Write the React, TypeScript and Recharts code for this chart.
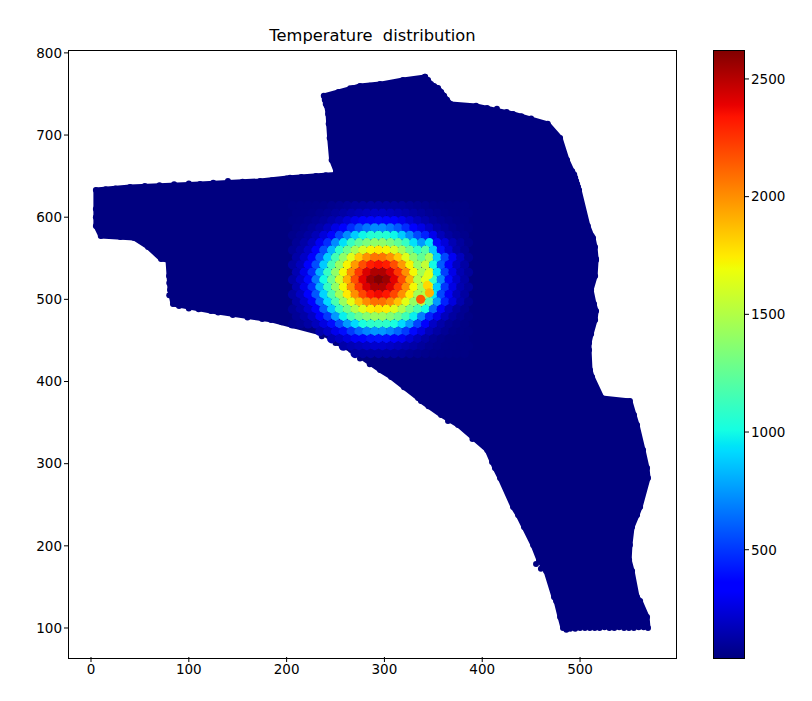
import { ComposedChart, BarChart, Bar, Area, Scatter, XAxis, YAxis } from 'recharts';

// outline of the mesh
const rowY = [100, 113.4, 132.9, 137.7, 169.4, 182.8, 201, 223, 237.6, 247.3, 282.6, 294.8, 316.7, 347.1, 359.3, 376.3, 380, 405.6, 414, 438.4, 447, 457.9, 475, 485.9, 494.4, 511.5, 528.5, 548, 549.2, 563.8, 574.8, 577.2, 589.4, 633.2, 636.9, 640.5, 644.2, 647.9, 652, 656, 669.7, 696.5, 713.6, 725.7, 735.5, 737.9, 742.8, 747.7, 752.5, 757.4, 759.8, 762, 767, 770.8];
const rowLeft = [482.6, 479.6, 475.5, 473.4, 465.2, 458, 452, 442.7, 436.6, 431.5, 418.2, 413, 405, 375.3, 357.9, 337.4, 334.4, 306.8, 295.5, 265.9, 252.6, 238.2, 184, 122.7, 83.8, 80.8, 79.8, 78.7, 71.6, 58.3, 44, 10, 5, 5, 39.9, 111.5, 172.8, 203.5, 249.5, 250.5, 246, 244, 243, 242.4, 241, 240, 239, 238, 253, 268, 275, 295.5, 319, 341.5];
const rowRight = [569.5, 568.5, 561.4, 558.3, 553.2, 550.2, 551, 553.2, 558.3, 561.4, 569.5, 568.5, 564.4, 558.3, 555.2, 551, 522.5, 512.3, 510.2, 509.2, 509.2, 511.3, 515.4, 516.4, 514.3, 511.3, 515.4, 516.4, 516.4, 515.3, 513.3, 512, 508, 499, 498, 497, 496, 495, 494, 492, 486.7, 479.6, 467, 431.5, 393.7, 368, 364, 361, 358, 354.8, 350.7, 347.6, 344.6, 341.5];

// extra points along the edges that are nearly flat
const edgeX = [15, 25, 55, 70, 85, 100, 125, 140, 155, 185, 200, 215, 230, 240, 20, 30, 90, 100, 110, 130, 145, 160, 175, 195, 210, 225, 236, 250, 275, 285, 320, 345, 365, 390, 265, 285, 305, 330, 405, 415, 425, 440, 450, 486, 490, 495, 500, 505, 510, 515, 520, 525, 530, 535, 540, 545, 550, 555, 560, 565, 530, 540, 548, 5, 5, 80, 80, 410, 455, 460];
const edgeY = [634, 635, 638, 639, 640, 641, 642, 644, 643, 645, 647, 649, 650, 651, 577, 576, 492, 489, 488, 484, 481, 478, 476, 472, 468, 464, 455, 447, 428, 421, 393, 370, 352, 330, 757, 760, 762, 767, 733, 732, 728, 723, 720, 98, 99, 99, 100, 100, 100, 100, 100, 101, 100, 100, 101, 100, 100, 100, 101, 101, 376, 376, 376, 610, 600, 520, 505, 302, 178, 172];

// temperature around the hot spot, rows run from y=614 down to y=434
const heatY = [614, 605, 596, 587, 578, 569, 560, 551, 542, 533, 524, 515, 506, 497, 488, 479, 470, 461, 452, 443, 434];
const heatXEven = [206, 214, 222, 230, 238, 246, 254, 262, 270, 278, 286, 294, 302, 310, 318, 326, 334, 342, 350, 358, 366, 374, 382];
const heatXOdd = [210, 218, 226, 234, 242, 250, 258, 266, 274, 282, 290, 298, 306, 314, 322, 330, 338, 346, 354, 362, 370, 378, 386];
const heatT: (number | null)[][] = [
    [50, 52, 52, 55, 60, 72, 82, 92, 103, 109, 114, 115, 114, 109, 103, 92, 82, 72, 60, 55, 52, 52, 50],
    [52, 54, 62, 74, 87, 106, 124, 147, 168, 186, 196, 196, 186, 168, 147, 124, 106, 87, 74, 62, 54, 52, 50],
    [55, 58, 72, 87, 109, 141, 178, 232, 284, 330, 370, 380, 370, 330, 284, 232, 178, 141, 109, 87, 72, 58, 55],
    [63, 78, 103, 135, 186, 267, 360, 468, 582, 659, 712, 712, 659, 582, 468, 360, 267, 200, 135, 103, 78, 63, 55],
    [68, 85, 115, 164, 243, 370, 532, 712, 878, 988, 1050, 1070, 1050, 988, 878, 712, 544, 443, 284, 171, 115, 85, 68],
    [90, 127, 189, 300, 474, 712, 933, 1110, 1240, 1330, 1390, 1390, 1330, 1240, 1110, 933, 751, 939, 380, 243, 157, 109, 68],
    [90, 130, 200, 340, 557, 830, 1080, 1270, 1460, 1620, 1720, 1750, 1720, 1620, 1460, 1270, 1080, 1200, 878, 400, 228, 132, 90],
    [127, 200, 345, 595, 890, 1150, 1390, 1640, 1840, 1990, 2070, 2070, 1990, 1840, 1640, 1390, 1250, 1450, 878, 544, 300, 178, 87],
    [118, 178, 320, 557, 878, 1160, 1430, 1720, 1970, 2180, 2310, 2350, 2310, 2180, 1970, 1720, 1400, 1550, 1000, 595, 330, 186, 121],
    [153, 275, 481, 817, 1110, 1400, 1710, 2000, 2240, 2420, 2520, 2520, 2420, 2240, 2000, 1710, 1450, 1600, 939, 519, 275, 153, 103],
    [127, 210, 380, 659, 1000, 1280, 1600, 1900, 2180, 2400, 2560, 2620, 2560, 2400, 2180, 1900, 1500, 1650, 1100, 699, 380, 210, 127],
    [153, 275, 481, 817, 1110, 1400, 1710, 2000, 2240, 2420, 2520, 2520, 2420, 2240, 2000, 1710, 1450, 1650, 878, 494, 267, 147, 103],
    [121, 193, 340, 582, 903, 1180, 1460, 1750, 2000, 2200, 2330, 2370, 2330, 2200, 2000, 1750, 1450, 1500, 939, 544, 309, 178, 115],
    [130, 210, 360, 620, 915, 1170, 1420, 1660, 1860, 2010, 2090, 2090, 2010, 1860, 1660, 1410, 1500, 1200, 751, 443, 251, 144, 80],
    [92, 135, 214, 360, 595, 866, 1110, 1300, 1490, 1640, 1740, 1770, 1740, 1640, 1490, 1300, 1150, 1000, 620, 330, 186, 115, 80],
    [92, 130, 196, 320, 506, 751, 970, 1140, 1270, 1360, 1420, 1420, 1360, 1270, 1140, 970, 685, 443, 284, 178, 115, 80, 55],
    [72, 87, 121, 175, 259, 390, 557, 751, 915, 1020, 1080, 1100, 1080, 1020, 915, 751, 532, 330, 200, 132, 90, 68, 55],
    [null, null, null, 144, 200, 284, 390, 506, 620, 699, 751, 751, 699, 620, 506, 380, 259, 171, 121, 87, 63, 55, 50],
    [null, null, null, null, null, 150, 193, 251, 310, 360, 400, 410, 400, 360, 300, 236, 171, 127, 90, 68, 55, 52, 50],
    [null, null, null, null, null, null, 130, 157, 178, 200, 214, 214, 200, 178, 150, 127, 103, 82, 68, 55, 52, 50, 50],
    [null, null, null, null, null, null, null, null, 106, 112, 116, 119, 116, 112, 103, 90, 80, 68, 58, 55, 52, 50, 50],
];

// the few odd points on the right of the hot spot
const spotX = [337, 344, 345, 346];
const spotY = [500, 517, 530, 508];
const spotT = [2150, 1800, 1650, 1900];

const xTicks = [0, 100, 200, 300, 400, 500];
const yTicks = [100, 200, 300, 400, 500, 600, 700, 800];
const barTicks = [500, 1000, 1500, 2000, 2500];
const jetStops = [0, 0.11, 0.125, 0.34, 0.35, 0.375, 0.64, 0.65, 0.66, 0.89, 0.91, 1];

const T_MIN = 40;
const T_MAX = 2623;

function lerp(xs: number[], ys: number[], t: number) {
    for (let i = 1; i < xs.length; i++) {
        if (t <= xs[i]) return ys[i - 1] + ((ys[i] - ys[i - 1]) * (t - xs[i - 1])) / (xs[i] - xs[i - 1]);
    }
    return ys[ys.length - 1];
}

function jet(t: number) {
    const r = lerp([0, 0.35, 0.66, 0.89, 1], [0, 0, 1, 1, 0.5], t);
    const g = lerp([0, 0.125, 0.375, 0.64, 0.91, 1], [0, 0, 1, 1, 0, 0], t);
    const b = lerp([0, 0.11, 0.34, 0.65, 1], [0.5, 1, 1, 0, 0], t);
    return `rgb(${Math.round(r * 255)},${Math.round(g * 255)},${Math.round(b * 255)})`;
}

const tempColor = (temp: number) => jet((temp - T_MIN) / (T_MAX - T_MIN));

const outline = rowY.map((y, i) => ({ y, range: [rowLeft[i], rowRight[i]] }));

const edgeDots = [
    ...rowY.map((y, i) => ({ x: rowLeft[i], y })),
    ...rowY.map((y, i) => ({ x: rowRight[i], y })),
    ...edgeX.map((x, i) => ({ x, y: edgeY[i] })),
];

const heatDots: { x: number; y: number; t: number }[] = [];
heatY.forEach((y, r) => {
    const xs = r % 2 === 0 ? heatXEven : heatXOdd;
    heatT[r].forEach((t, c) => {
        if (t !== null) heatDots.push({ x: xs[c], y, t });
    });
});
spotX.forEach((x, i) => heatDots.push({ x, y: spotY[i], t: spotT[i] }));

const tickStyle = { fontSize: 13.5, fill: '#000', fontFamily: 'DejaVu Sans' };
const axisTick = { stroke: '#000' };

export default function App() {
    return (
        <div style={{ position: 'absolute', left: 0, top: 0, width: 812, height: 701, background: '#fff', fontFamily: 'DejaVu Sans' }}>
            <div style={{ position: 'absolute', left: 69, width: 607, top: 26, textAlign: 'center', fontSize: 16.3, whiteSpace: 'pre' }}>
                Temperature  distribution
            </div>

            <ComposedChart
                width={812}
                height={701}
                layout="vertical"
                data={outline}
                margin={{ top: 50, right: 136, bottom: 14, left: 9 }}
                style={{ position: 'absolute', left: 0, top: 0 }}
            >
                <XAxis type="number" dataKey="x" domain={[-22.5, 598.1]} ticks={xTicks} height={30} axisLine={false} tickLine={axisTick} tick={tickStyle} tickSize={5} allowDataOverflow />
                <YAxis type="number" dataKey="y" reversed domain={[64.7, 803.5]} ticks={yTicks} width={60} axisLine={false} tickLine={axisTick} tick={tickStyle} tickSize={5} allowDataOverflow />
                <Area dataKey="range" type="linear" stroke="#000080" strokeWidth={5} strokeLinejoin="round" fill="#000080" fillOpacity={1} dot={false} activeDot={false} isAnimationActive={false} />
                <Scatter data={edgeDots} isAnimationActive={false} shape={(p: any) => <circle cx={p.cx} cy={p.cy} r={3} fill="#000080" />} />
                <Scatter data={heatDots} isAnimationActive={false} shape={(p: any) => <circle cx={p.cx} cy={p.cy} r={4.6} fill={tempColor(p.payload.t)} />} />
            </ComposedChart>
            <div style={{ position: 'absolute', left: 68, top: 50, width: 607, height: 607, border: '1px solid #000', pointerEvents: 'none' }} />

            <BarChart
                width={112}
                height={701}
                data={[{ name: 'temp', v: [T_MIN, T_MAX] }]}
                barCategoryGap={0}
                margin={{ top: 50, right: 0, bottom: 43, left: 14 }}
                style={{ position: 'absolute', left: 700, top: 0 }}
            >
                <defs>
                    <linearGradient id="jetBar" x1="0" y1="1" x2="0" y2="0">
                        {jetStops.map((s) => (
                            <stop key={s} offset={s} stopColor={jet(s)} />
                        ))}
                    </linearGradient>
                </defs>
                <XAxis dataKey="name" hide />
                <YAxis orientation="right" type="number" domain={[T_MIN, T_MAX]} ticks={barTicks} width={68} axisLine={false} tickLine={axisTick} tick={tickStyle} tickSize={5} allowDataOverflow />
                <Bar dataKey="v" fill="url(#jetBar)" isAnimationActive={false} />
            </BarChart>
            <div style={{ position: 'absolute', left: 713, top: 50, width: 30, height: 607, border: '1px solid #000', pointerEvents: 'none' }} />
        </div>
    );
}
